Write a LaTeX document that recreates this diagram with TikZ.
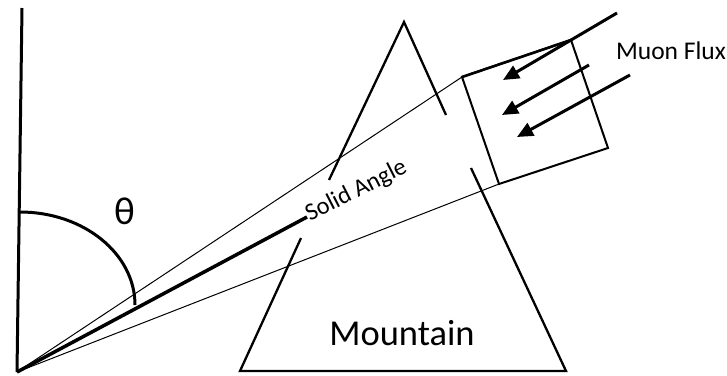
\documentclass[tikz,border=0pt]{standalone}
\usepackage{fontspec}
\setmainfont{Carlito}
\usetikzlibrary{arrows.meta}
\begin{document}
\begin{tikzpicture}[x=1pt,y=-1pt,
  thickline/.style={line width=3pt},
  thinline/.style={line width=1pt},
  mountainline/.style={line width=2.3pt},
  boxline/.style={line width=2pt},
  fluxarrow/.style={line width=3pt,-{Triangle[length=16pt,width=14pt]}},
  lbl/.style={inner sep=0pt,anchor=base}]
\useasboundingbox (0,0) rectangle (727,375);
% coordinates
\coordinate (O) at (17,372);
\coordinate (vtop) at (22,8);
\coordinate (arcstart) at (20,212);
\coordinate (dirend) at (307,217);
\coordinate (b1) at (462,77);
\coordinate (b2) at (571,40);
\coordinate (b3) at (608,148);
\coordinate (b4) at (499,184);
\coordinate (peak) at (404,22);
\coordinate (mL1) at (329,180);
\coordinate (mR1) at (446,115);
\coordinate (mL2) at (301,238);
\coordinate (mR2) at (471,168);
\coordinate (bl) at (240,371);
\coordinate (br) at (566,371);
\coordinate (a1s) at (617,13);
\coordinate (a1e) at (503,80);
\coordinate (a2s) at (589,65);
\coordinate (a2e) at (502,115);
\coordinate (a3s) at (630,75);
\coordinate (a3e) at (517,137);
% zenith axis
\draw[thickline] (O) -- (vtop);
% angle arc
\draw[thickline] (arcstart) arc[start angle=90,end angle=0,x radius=115,y radius=-93];
% solid angle cone
\draw[thinline] (O) -- (b1);
\draw[thinline] (O) -- (b4);
% direction line
\draw[line width=3.5pt] (O) -- (dirend);
% mountain
\draw[mountainline] (mL1) -- (peak) -- (mR1);
\draw[mountainline] (mL2) -- (bl) -- (br) -- (mR2);
% detector box
\draw[boxline] (b1) -- (b2) -- (b3) -- (b4) -- cycle;
\draw[line width=2.6pt] (b1) -- (b2);
% muon flux arrows
\draw[fluxarrow] (a1s) -- (a1e);
\draw[fluxarrow] (a2s) -- (a2e);
\draw[fluxarrow] (a3s) -- (a3e);
% labels
\node[inner sep=0pt,font=\fontsize{39}{44}\selectfont] (theta) at (125,211) {θ};
\node[lbl,font=\fontsize{36.5}{42}\selectfont] (mountain) at (402,345) {Mountain};
\node[lbl,font=\fontsize{25.5}{29}\selectfont] (flux) at (671,59) {Muon Flux};
\node[inner sep=0pt,anchor=base west,rotate=27,font=\fontsize{24.5}{28}\selectfont] (solid) at (310,222) {Solid Angle};
\end{tikzpicture}
\end{document}
